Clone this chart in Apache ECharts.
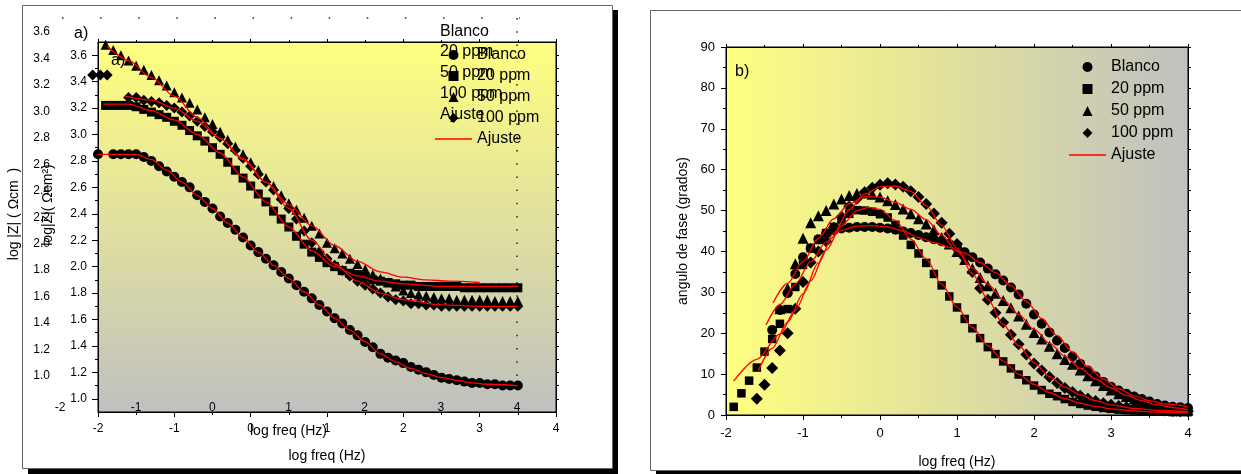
<!DOCTYPE html>
<html>
<head>
<meta charset="utf-8">
<title>Impedancia - Bode</title>
<script src="https://cdn.jsdelivr.net/npm/echarts@6.0.0/dist/echarts.min.js"></script>
<style>
  html, body { margin: 0; padding: 0; background: #fff; }
  #root { width: 1241px; height: 474px; }
</style>
</head>
<body>
<div id="root"></div>
<script>
// ---- data, panel a: log |Z| vs log freq ----
var freqA = [-2.0, -1.9, -1.8, -1.7, -1.6, -1.5, -1.4, -1.3, -1.2, -1.1,
             -1.0, -0.9, -0.8, -0.7, -0.6, -0.5, -0.4, -0.3, -0.2, -0.1,
             0.0, 0.1, 0.2, 0.3, 0.4, 0.5, 0.6, 0.7, 0.8, 0.9,
             1.0, 1.1, 1.2, 1.3, 1.4, 1.5, 1.6, 1.7, 1.8, 1.9,
             2.0, 2.1, 2.2, 2.3, 2.4, 2.5, 2.6, 2.7, 2.8, 2.9,
             3.0, 3.1, 3.2, 3.3, 3.4, 3.5];
var blancoA = [2.85, null, 2.85, 2.85, 2.85, 2.85, 2.83, 2.80, 2.76, 2.72,
               2.68, 2.64, 2.60, 2.54, 2.49, 2.44, 2.38, 2.33, 2.28, 2.22,
               2.16, 2.11, 2.06, 2.01, 1.96, 1.91, 1.86, 1.81, 1.76, 1.71,
               1.66, 1.61, 1.57, 1.52, 1.48, 1.43, 1.39, 1.34, 1.31, 1.29,
               1.27, 1.24, 1.22, 1.20, 1.18, 1.16, 1.15, 1.14, 1.13, 1.12,
               1.12, 1.11, 1.11, 1.10, 1.10, 1.10];
var ppm20A = [null, 3.22, 3.22, 3.22, 3.22, 3.21, 3.19, 3.17, 3.15, 3.13,
              3.10, 3.07, 3.03, 2.99, 2.95, 2.90, 2.85, 2.79, 2.73, 2.67,
              2.61, 2.55, 2.49, 2.42, 2.36, 2.30, 2.23, 2.17, 2.11, 2.07,
              2.03, 2.00, 1.97, 1.95, 1.94, 1.92, 1.90, 1.89, 1.88, 1.87,
              1.86, 1.86, 1.85, 1.85, 1.85, 1.85, 1.85, 1.85, 1.84, 1.84,
              1.84, 1.84, 1.84, 1.84, 1.84, 1.84];
var ppm50A = [null, 3.68, 3.64, 3.60, 3.56, 3.52, 3.49, 3.45, 3.41, 3.37,
              3.32, 3.28, 3.24, 3.19, 3.13, 3.08, 3.02, 2.96, 2.91, 2.85,
              2.79, 2.73, 2.67, 2.61, 2.54, 2.48, 2.43, 2.37, 2.31, 2.25,
              2.18, 2.14, 2.10, 2.06, 2.02, 1.98, 1.94, 1.91, 1.88, 1.85,
              1.82, 1.80, 1.79, 1.78, 1.77, 1.76, 1.76, 1.75, 1.75, 1.75,
              1.75, 1.75, 1.74, 1.74, 1.74, 1.74];
var ppm100A = [null, null, null, null, 3.28, 3.28, 3.26, 3.25, 3.24, 3.22,
               3.20, 3.17, 3.14, 3.10, 3.06, 3.02, 2.98, 2.93, 2.88, 2.82,
               2.76, 2.70, 2.64, 2.58, 2.51, 2.44, 2.36, 2.27, 2.18, 2.11,
               2.06, 2.01, 1.97, 1.93, 1.89, 1.86, 1.83, 1.80, 1.77, 1.75,
               1.74, 1.72, 1.72, 1.71, 1.71, 1.70, 1.70, 1.70, 1.70, 1.70,
               1.70, 1.70, 1.70, 1.70, 1.70, 1.70];
// the three 100 ppm points sitting apart at the low-frequency end
var lone100A_f = [-2.07, -1.97, -1.88];
var lone100A_z = [3.45, 3.45, 3.45];

// fits (Ajuste), panel a
var fitBlancoA_f = [-2.0, -1.5, -1.3, -1.1, -0.9, -0.7, -0.5, -0.3, -0.1, 0.1, 0.3, 0.5, 0.7,
                    0.9, 1.1, 1.3, 1.5, 1.7, 1.9, 2.1, 2.3, 2.5, 2.7, 2.9, 3.1, 3.5];
var fitBlancoA_z = [2.85, 2.85, 2.81, 2.73, 2.64, 2.54, 2.44, 2.33, 2.22, 2.11, 2.01, 1.91, 1.81,
                    1.71, 1.61, 1.52, 1.43, 1.34, 1.28, 1.23, 1.19, 1.16, 1.14, 1.12, 1.11, 1.10];
var fit20A_f = [-1.93, -1.6, -1.3, -1.0, -0.7, -0.4, -0.1, 0.2, 0.5, 0.8, 1.1, 1.4, 1.7, 2.0, 2.5, 3.0, 3.5];
var fit20A_z = [3.23, 3.23, 3.18, 3.11, 3.00, 2.86, 2.68, 2.49, 2.30, 2.12, 2.00, 1.93, 1.89, 1.87, 1.85, 1.85, 1.85];
var fit50A_f = [-1.88, -1.6, -1.3, -1.0, -0.7, -0.4, -0.1, 0.2, 0.5, 0.8, 1.1, 1.4, 1.7, 2.0, 2.3, 2.6, 3.0];
var fit50A_z = [3.67, 3.56, 3.43, 3.29, 3.13, 2.97, 2.81, 2.64, 2.47, 2.31, 2.16, 2.04, 1.96, 1.92, 1.90, 1.89, 1.88];
var fit100A_f = [-1.65, -1.3, -1.0, -0.7, -0.4, -0.1, 0.2, 0.5, 0.8, 1.1, 1.4, 1.7, 2.0, 2.5, 3.0, 3.5];
var fit100A_z = [3.29, 3.26, 3.20, 3.10, 2.97, 2.82, 2.64, 2.44, 2.20, 2.02, 1.89, 1.80, 1.75, 1.71, 1.70, 1.70];

// ---- data, panel b: phase angle vs log freq ----
var freqB = [-1.9, -1.8, -1.7, -1.6, -1.5, -1.4, -1.3, -1.2, -1.1, -1.0,
             -0.9, -0.8, -0.7, -0.6, -0.5, -0.4, -0.3, -0.2, -0.1, 0.0,
             0.1, 0.2, 0.3, 0.4, 0.5, 0.6, 0.7, 0.8, 0.9, 1.0,
             1.1, 1.2, 1.3, 1.4, 1.5, 1.6, 1.7, 1.8, 1.9, 2.0,
             2.1, 2.2, 2.3, 2.4, 2.5, 2.6, 2.7, 2.8, 2.9, 3.0,
             3.1, 3.2, 3.3, 3.4, 3.5, 3.6, 3.7, 3.8, 3.9, 4.0];
var blancoB = [null, null, null, null, null, 20.8, 25.7, 29.8, 34.5, 38.6,
               40.8, 43.0, 44.4, 45.2, 45.6, 45.8, 46.0, 46.0, 46.0, 45.8,
               45.6, 45.3, 44.9, 44.5, 44.0, 43.5, 43.0, 42.5, 41.8, 40.9,
               39.8, 38.6, 37.3, 35.8, 34.4, 32.9, 31.2, 29.5, 27.2, 24.6,
               22.3, 20.2, 18.2, 16.4, 14.3, 12.5, 10.9, 9.4, 8.1, 6.9,
               6.0, 5.2, 4.5, 3.9, 3.3, 2.7, 2.3, 2.0, 1.9, 1.7];
var ppm20B = [2.0, 5.3, 8.4, 11.6, 15.5, 18.6, 22.3, 25.9, 31.3, 36.7,
              40.8, 42.8, 44.5, 46.0, 47.8, 49.2, 50.1, 50.0, 49.7, 49.1,
              48.3, 46.5, 43.9, 41.6, 39.5, 37.2, 34.5, 31.7, 29.0, 26.3,
              23.5, 21.2, 18.8, 16.6, 14.9, 13.1, 11.4, 9.9, 8.5, 7.2,
              6.1, 5.2, 4.6, 3.9, 3.2, 2.7, 2.3, 2.0, 1.7, 1.5,
              1.3, 1.2, 1.1, 1.0, 0.9, 0.8, 0.8, 0.7, 0.7, 0.7];
var ppm50B = [null, null, null, null, null, null, 26.0, 31.0, 37.0, 43.2,
              47.0, 48.7, 50.0, 51.6, 52.8, 53.7, 54.2, 54.3, 54.0, 53.3,
              52.4, 51.5, 50.4, 49.2, 48.0, 46.7, 45.3, 43.4, 41.8, 40.0,
              38.0, 35.8, 33.6, 31.6, 29.8, 28.0, 26.2, 24.2, 22.2, 20.2,
              18.6, 16.8, 15.0, 13.6, 12.4, 11.0, 9.6, 8.4, 7.2, 6.1,
              5.2, 4.5, 3.9, 3.4, 2.9, 2.4, 2.0, 1.7, 1.4, 1.2];
var ppm100B = [null, null, null, 4.0, 7.4, 11.5, 15.8, 20.0, 26.0, 32.5,
               37.3, 40.0, 42.5, 45.8, 48.5, 51.0, 52.9, 54.5, 55.6, 56.3,
               56.7, 56.4, 55.8, 54.7, 53.3, 51.6, 49.3, 47.0, 44.3, 41.8,
               38.5, 35.0, 31.0, 28.2, 25.0, 22.6, 19.6, 17.3, 14.8, 12.6,
               10.9, 9.3, 7.8, 6.6, 5.6, 4.7, 4.0, 3.4, 2.9, 2.5,
               2.2, 1.9, 1.7, 1.5, 1.3, 1.2, 1.1, 1.0, 0.9, 0.9];

// fits (Ajuste), panel b
var fitBlancoB_f = [-1.48, -1.3, -1.1, -0.9, -0.7, -0.5, -0.3, -0.1, 0.1, 0.3, 0.5, 0.7, 0.9, 1.1,
                    1.3, 1.5, 1.7, 1.9, 2.1, 2.3, 2.5, 2.7, 2.9, 3.1, 3.3, 3.5, 3.7, 4.0];
var fitBlancoB_d = [22.0, 27.0, 32.0, 37.5, 42.3, 45.2, 46.2, 46.3, 46.0, 45.0, 43.4, 42.2, 41.0, 39.6,
                    37.3, 34.8, 31.6, 27.8, 23.6, 19.4, 15.4, 11.8, 8.8, 6.4, 4.7, 3.5, 2.7, 2.0];
var fit20B_f = [-1.9, -1.6, -1.3, -1.1, -0.9, -0.7, -0.5, -0.3, -0.15, 0.0, 0.2, 0.4, 0.6, 0.8,
                1.0, 1.2, 1.4, 1.6, 1.8, 2.0, 2.2, 2.4, 2.6, 2.8, 3.0, 3.3, 3.6, 4.0];
var fit20B_d = [8.3, 13.6, 19.8, 25.6, 32.8, 40.3, 46.3, 50.0, 50.8, 50.3, 47.6, 43.0, 38.2, 32.0,
                26.4, 21.4, 17.0, 13.2, 10.0, 7.5, 5.5, 4.0, 2.9, 2.1, 1.5, 1.0, 0.7, 0.5];
var fit50B_f = [-1.39, -1.2, -1.0, -0.8, -0.6, -0.4, -0.2, 0.0, 0.2, 0.4, 0.6, 0.8, 1.0, 1.2,
                1.4, 1.6, 1.8, 2.0, 2.2, 2.4, 2.6, 2.8, 3.0, 3.2, 3.4, 3.6, 3.8, 4.0];
var fit50B_d = [27.4, 32.2, 37.5, 43.2, 48.0, 51.6, 53.4, 53.3, 52.0, 50.3, 47.8, 44.0, 40.0, 36.0,
                32.0, 28.2, 24.6, 21.0, 17.6, 14.4, 11.4, 8.8, 6.6, 4.8, 3.5, 2.5, 1.8, 1.3];
var fit100B_f = [-1.58, -1.4, -1.2, -1.0, -0.8, -0.6, -0.4, -0.2, 0.0, 0.2, 0.4, 0.6, 0.8, 1.0,
                 1.2, 1.4, 1.6, 1.8, 2.0, 2.2, 2.4, 2.6, 2.8, 3.0, 3.3, 3.6, 4.0];
var fit100B_d = [10.8, 16.3, 22.7, 29.6, 37.2, 44.5, 50.2, 54.0, 55.8, 56.0, 54.7, 51.2, 46.4, 40.8,
                 34.5, 28.3, 22.2, 17.0, 12.8, 9.4, 6.8, 4.9, 3.5, 2.5, 1.6, 1.1, 0.8];

// tick positions of the log|Z| axis (labels every 0.2, small ticks between)
var yMajorA = [1.0, 1.2, 1.4, 1.6, 1.8, 2.0, 2.2, 2.4, 2.6, 2.8, 3.0, 3.2, 3.4, 3.6];
var yMinorA = [1.1, 1.3, 1.5, 1.7, 1.9, 2.1, 2.3, 2.5, 2.7, 2.9, 3.1, 3.3, 3.5];
var legendNames = ['Blanco', '20 ppm', '50 ppm', '100 ppm', 'Ajuste'];

var myChart = echarts.init(document.getElementById('root'));
var font = 'Arial, "Liberation Sans", sans-serif';
var black = '#000';

function marks(xs, ys) {
    var out = [];
    for (var i = 0; i < xs.length; i++) {
        if (ys[i] != null) out.push([xs[i], ys[i]]);
    }
    return out;
}

function scatter(name, symbol, size, data, xi, yi) {
    return {
        name: name, type: 'scatter', symbol: symbol, symbolSize: size,
        xAxisIndex: xi, yAxisIndex: yi, clip: false, z: 2,
        itemStyle: { color: black, opacity: 1 },
        data: data
    };
}

function fit(xs, ys, xi, yi) {
    return {
        name: 'Ajuste', type: 'line', symbol: 'none', showSymbol: false,
        smooth: 0.3, smoothMonotone: 'x',
        xAxisIndex: xi, yAxisIndex: yi, z: 3,
        lineStyle: { color: '#ff0000', width: 1.3 },
        itemStyle: { color: '#ff0000' },
        data: marks(xs, ys)
    };
}

// shared axis pieces
function tickLine(len) { return { show: true, length: len, inside: false, lineStyle: { color: black, width: 1 } }; }
var noSplit = { show: false };
var lineBlack = { show: true, onZero: false, lineStyle: { color: black, width: 1 } };
var noLine = { show: false, onZero: false };
var nameStyle = { color: black, fontSize: 14, fontFamily: font };

function freqAxis(grid, pos, withLabels, nameGap) {
    var ax = {
        gridIndex: grid, type: 'value', min: -2, max: 4, interval: 1, position: pos,
        axisLine: lineBlack,
        axisTick: tickLine(withLabels ? 5 : 3),
        minorTick: { show: true, splitNumber: 2, length: withLabels ? 3 : 2, lineStyle: { color: black } },
        splitLine: noSplit, minorSplitLine: noSplit,
        axisLabel: { show: withLabels, color: black, fontSize: grid === 0 ? 12 : 13, margin: grid === 0 ? 11 : 12, fontFamily: font }
    };
    if (withLabels) {
        ax.name = 'log freq (Hz)';
        ax.nameLocation = 'middle';
        ax.nameGap = nameGap;
        ax.nameTextStyle = nameStyle;
    }
    return ax;
}

var xAxes = [
    freqAxis(0, 'bottom', true, 37),
    freqAxis(0, 'top', false),
    // overlapping duplicate layer of panel a (labels only)
    {
        gridIndex: 1, type: 'value', min: -2, max: 4, interval: 1, position: 'bottom',
        axisLine: noLine, axisTick: { show: false }, splitLine: noSplit,
        axisLabel: { color: black, fontSize: 12, margin: 26, fontFamily: font },
        name: 'log freq (Hz)', nameLocation: 'middle', nameGap: 48, nameTextStyle: nameStyle
    },
    freqAxis(2, 'bottom', true, 40),
    freqAxis(2, 'top', false)
];

var yAxes = [
    {
        gridIndex: 0, type: 'value', min: 0.9, max: 3.7, position: 'left',
        axisLine: lineBlack,
        axisTick: { show: true, length: 6, customValues: yMajorA, lineStyle: { color: black } },
        axisLabel: { customValues: yMajorA, color: black, fontSize: 12, margin: 11, fontFamily: font,
                     formatter: function (v) { return v.toFixed(1); } },
        splitLine: noSplit
    },
    {
        gridIndex: 0, type: 'value', min: 0.9, max: 3.7, position: 'left',
        axisLine: noLine,
        axisTick: { show: true, length: 3, customValues: yMinorA, lineStyle: { color: black } },
        axisLabel: { show: false }, splitLine: noSplit
    },
    {
        gridIndex: 0, type: 'value', min: 0.9, max: 3.7, position: 'right',
        axisLine: lineBlack,
        axisTick: { show: true, length: 3, customValues: yMajorA.concat(yMinorA), lineStyle: { color: black } },
        axisLabel: { show: false }, splitLine: noSplit
    },
    {
        gridIndex: 1, type: 'value', min: 1.0, max: 3.6, interval: 0.2, position: 'left',
        axisLine: noLine, axisTick: { show: false }, splitLine: noSplit,
        axisLabel: { color: black, fontSize: 12, margin: 10, fontFamily: font,
                     formatter: function (v) { return v.toFixed(1); } }
    },
    {
        gridIndex: 2, type: 'value', min: 0, max: 90, interval: 10, position: 'left',
        axisLine: lineBlack, axisTick: tickLine(5),
        minorTick: { show: true, splitNumber: 2, length: 3, lineStyle: { color: black } },
        splitLine: noSplit, minorSplitLine: noSplit,
        axisLabel: { color: black, fontSize: 13, margin: 11, fontFamily: font },
        name: 'angulo de fase (grados)', nameLocation: 'middle', nameGap: 36, nameTextStyle: nameStyle
    },
    {
        gridIndex: 2, type: 'value', min: 0, max: 90, interval: 10, position: 'right',
        axisLine: lineBlack, axisTick: tickLine(3),
        minorTick: { show: true, splitNumber: 2, length: 3, lineStyle: { color: black } },
        splitLine: noSplit, minorSplitLine: noSplit,
        axisLabel: { show: false }
    }
];

var series = [
    scatter('Blanco', 'circle', 10, marks(freqA, blancoA), 0, 0),
    scatter('20 ppm', 'rect', 9, marks(freqA, ppm20A), 0, 0),
    scatter('50 ppm', 'triangle', 10, marks(freqA, ppm50A), 0, 0),
    scatter('100 ppm', 'diamond', 11, marks(lone100A_f, lone100A_z).concat(marks(freqA, ppm100A)), 0, 0),
    fit(fitBlancoA_f, fitBlancoA_z, 0, 0),
    fit(fit20A_f, fit20A_z, 0, 0),
    fit(fit50A_f, fit50A_z, 0, 0),
    fit(fit100A_f, fit100A_z, 0, 0),

    scatter('Blanco', 'circle', 10, marks(freqB, blancoB), 3, 4),
    scatter('20 ppm', 'rect', 8.5, marks(freqB, ppm20B), 3, 4),
    scatter('50 ppm', 'triangle', 11, marks(freqB, ppm50B), 3, 4),
    scatter('100 ppm', 'diamond', 12, marks(freqB, ppm100B), 3, 4),
    fit(fitBlancoB_f, fitBlancoB_d, 3, 4),
    fit(fit20B_f, fit20B_d, 3, 4),
    fit(fit50B_f, fit50B_d, 3, 4),
    fit(fit100B_f, fit100B_d, 3, 4)
];

// legend icons drawn as paths so they keep their proportions inside the wide icon box
var legendIcons = [
    'circle',
    'path://M0,0L10,0L10,10L0,10Z',
    'path://M5,0L10,10L0,10Z',
    'path://M5,0L10,5L5,10L0,5Z',
    'path://M0,0L37,0L37,1.5L0,1.5Z'
];

function legendAt(left, top, gap) {
    return {
        data: legendNames.map(function (n, i) { return { name: n, icon: legendIcons[i] }; }),
        orient: 'vertical', left: left, top: top, padding: 0, symbolKeepAspect: true,
        itemWidth: 37, itemHeight: 10, itemGap: gap, selectedMode: false,
        textStyle: { color: black, fontSize: 16, fontFamily: font }
    };
}

function label(text, x, y, z) {
    return {
        type: 'text', z: z == null ? 5 : z,
        style: { text: text, x: x, y: y, fill: black, font: '16px ' + font, verticalAlign: 'middle' }
    };
}

function sideName(text, x, y) {
    return {
        type: 'text', z: 5, x: x, y: y, rotation: Math.PI / 2,
        style: { text: text, fill: black, font: '14px ' + font, align: 'center', verticalAlign: 'middle' }
    };
}

// panel a: text-only copy of the legend from the duplicate layer
var ghostLegend = legendNames.map(function (n, i) {
    return label(n, 440, [32, 52, 73, 94, 115][i]);
});

var option = {
    animation: false,
    backgroundColor: '#fff',
    grid: [
        { left: 98, top: 42, width: 458, height: 370, show: true, borderColor: black, borderWidth: 1,
          backgroundColor: new echarts.graphic.LinearGradient(0, 0, 0, 1,
              [{ offset: 0, color: '#ffff80' }, { offset: 1, color: '#c0c0c0' }]) },
        { left: 60, top: 32, width: 457, height: 344, show: false },
        { left: 726, top: 47, width: 462, height: 368, show: true, borderColor: black, borderWidth: 1,
          backgroundColor: new echarts.graphic.LinearGradient(0, 0, 1, 0,
              [{ offset: 0, color: '#ffff80' }, { offset: 1, color: '#c0c0c0' }]) }
    ],
    xAxis: xAxes,
    yAxis: yAxes,
    legend: [legendAt(435, 47, 5), legendAt(1069, 59, 6)],
    graphic: [
        // page frames with their drop shadows
        { type: 'rect', z: -2, shape: { x: 28, y: 10, width: 590, height: 464 }, style: { fill: '#000' } },
        { type: 'rect', z: -1, shape: { x: 22.5, y: 5.5, width: 590, height: 463 }, style: { fill: '#fff', stroke: '#666', lineWidth: 1 } },
        { type: 'rect', z: -2, shape: { x: 656, y: 17, width: 700, height: 458 }, style: { fill: '#000' } },
        { type: 'rect', z: -1, shape: { x: 650.5, y: 10.5, width: 700, height: 460 }, style: { fill: '#fff', stroke: '#666', lineWidth: 1 } },
        // dotted edges of the duplicate layer in panel a
        { type: 'line', z: 1, shape: { x1: 62, y1: 18, x2: 520, y2: 18 }, style: { stroke: '#222', lineWidth: 1.5, lineDash: [1.5, 36.6] } },
        { type: 'line', z: 1, shape: { x1: 517, y1: 18, x2: 517, y2: 400 }, style: { stroke: '#222', lineWidth: 1.5, lineDash: [1.5, 11.7] } },
        sideName('log |Z| ( \u03A9cm  )', 14, 214),
        sideName('log|Z|( \u03A9cm\u00B2)', 48, 205),
        label('a)', 74, 34),
        label('a)', 111, 61, 1),
        label('b)', 735, 72)
    ].concat(ghostLegend),
    series: series
};

myChart.setOption(option, true);
</script>
</body>
</html>
